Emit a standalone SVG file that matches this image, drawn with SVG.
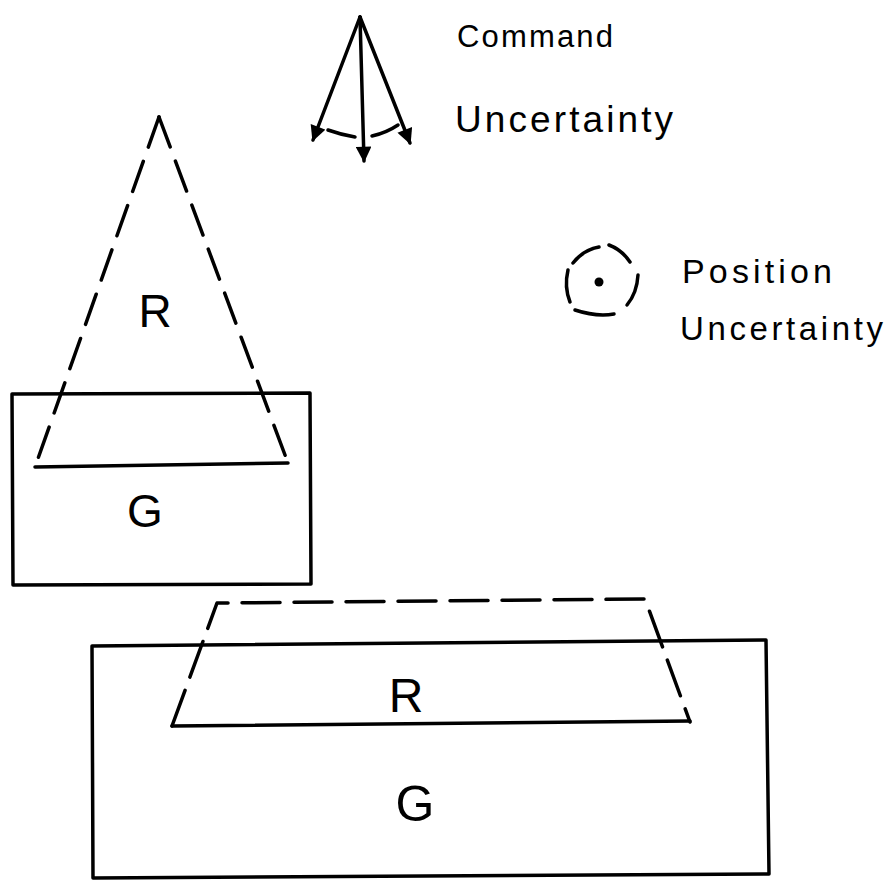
<svg xmlns="http://www.w3.org/2000/svg" width="885" height="880" viewBox="0 0 885 880">
<style>
.ln{fill:none;stroke:#000;stroke-width:3.5;stroke-linecap:round;stroke-linejoin:round}
.dl{fill:none;stroke:#000;stroke-width:3.5;stroke-linecap:round;stroke-linejoin:round;stroke-dasharray:32 15}
.lbl{font-family:"Liberation Sans",Arial,sans-serif;fill:#000}
</style>
<defs>
<marker id="ah" viewBox="0 0 10 10" refX="9" refY="5" markerWidth="5" markerHeight="4.5" orient="auto" markerUnits="strokeWidth">
<path d="M0,0 L10,5 L0,10 z" fill="#000"/>
</marker>
</defs>
<rect width="885" height="880" fill="#fff"/>

<g id="command-uncertainty">
<path class="ln" d="M360,17 L313,140" marker-end="url(#ah)"/>
<path class="ln" d="M360,17 L364,161" marker-end="url(#ah)"/>
<path class="ln" d="M360,17 L410,143" marker-end="url(#ah)"/>
<path class="ln" d="M328,130 Q342,135 355,137"/>
<path class="ln" d="M372,136 Q386,133 398,125"/>
<text class="lbl" x="457" y="47" font-size="31" textLength="156" lengthAdjust="spacing">Command</text>
<text class="lbl" x="455" y="132" font-size="37" textLength="218" lengthAdjust="spacing">Uncertainty</text>
</g>

<g id="position-uncertainty">
<path class="ln" d="M573,263 Q583,250 599,247"/>
<path class="ln" d="M609,245 Q622,250 630,262"/>
<path class="ln" d="M638,275 Q637,293 627,305"/>
<path class="ln" d="M614,314 Q596,317 575,310"/>
<path class="ln" d="M568,270 Q564,287 570,302"/>
<circle cx="599" cy="282" r="4.5" fill="#000"/>
<text class="lbl" x="682" y="283" font-size="34" textLength="150" lengthAdjust="spacing">Position</text>
<text class="lbl" x="680" y="340" font-size="33" textLength="203" lengthAdjust="spacing">Uncertainty</text>
</g>

<g id="upper-G">
<path class="ln" d="M12,394 L310,393 L311,584 L13,585 Z"/>
<text class="lbl" x="145" y="527" font-size="46" text-anchor="middle">G</text>
</g>

<g id="upper-R">
<path class="dl" d="M159,117 L35,467"/>
<path class="dl" d="M159,117 L288,463"/>
<path class="ln" d="M35,467 L288,463"/>
<text class="lbl" x="155" y="327" font-size="46" text-anchor="middle">R</text>
</g>

<g id="lower-G">
<path class="ln" d="M92,646 L766,640 L769,874 L93,878 Z"/>
<text class="lbl" x="415" y="821" font-size="50" text-anchor="middle">G</text>
</g>

<g id="lower-R">
<path class="dl" style="stroke-dasharray:38 14" d="M172,726 L217,603 L645,599 L690,722"/>
<path class="ln" d="M172,726 L690,721"/>
<text class="lbl" x="406" y="712" font-size="48" text-anchor="middle">R</text>
</g>
</svg>
